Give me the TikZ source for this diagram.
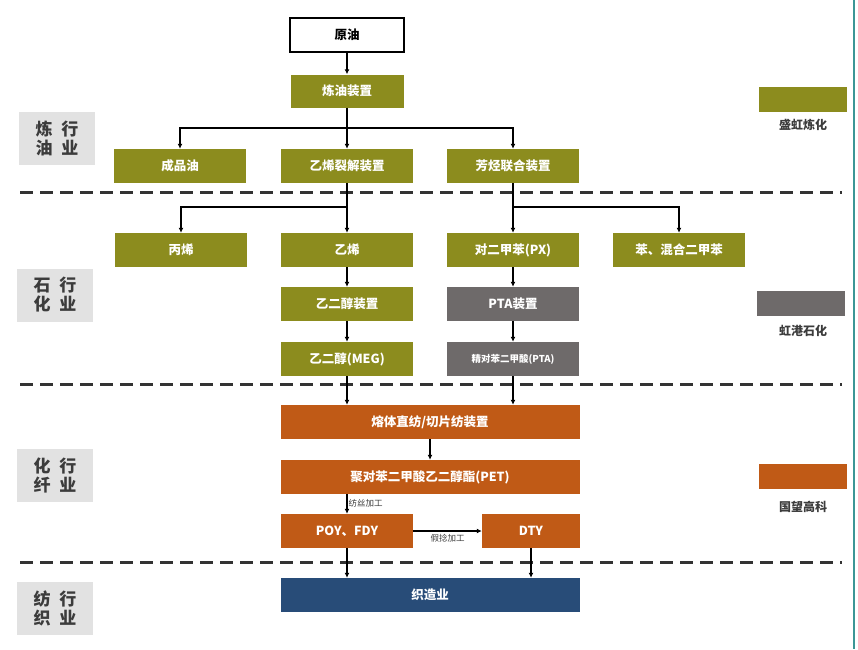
\documentclass[tikz,border=0pt]{standalone}
\usepackage{fontspec}
\newfontfamily\cjk{Noto Sans CJK SC}
\usetikzlibrary{arrows.meta}
\definecolor{olivebox}{RGB}{140,140,30}
\definecolor{graybox}{RGB}{110,106,106}
\definecolor{orangebox}{RGB}{192,90,22}
\definecolor{bluebox}{RGB}{40,76,120}
\definecolor{sidebox}{RGB}{226,226,226}
\definecolor{sidetext}{RGB}{60,60,60}
\definecolor{tealline}{RGB}{60,150,150}
\begin{document}
\begin{tikzpicture}[x=1pt, y=-1pt,
	box/.style={minimum width=132pt, minimum height=34pt, inner sep=0pt, text=white, font=\cjk\bfseries\fontsize{12.5}{14}\selectfont},
	wide/.style={box, minimum width=299pt},
	side/.style={fill=sidebox, minimum width=76pt, minimum height=53pt, align=center, text=sidetext, font=\cjk\bfseries\fontsize{17}{19}\selectfont},
	legend/.style={minimum width=88pt, minimum height=25pt, inner sep=0pt},
	legtext/.style={text=sidetext, font=\cjk\bfseries\fontsize{12}{14}\selectfont},
	small/.style={text=sidetext, font=\cjk\fontsize{8.5}{10}\selectfont, inner sep=1pt},
	arr/.style={-{Latex[length=5pt,width=5pt]}, line width=1.2pt},
	sep/.style={line width=3pt, dash pattern=on 13pt off 7pt, color=black!80}]
	\useasboundingbox (0,0) rectangle (858,649);
	\draw[tealline, line width=2pt] (854,0) -- (854,649);
	% section separators
	\draw[sep] (20,192) -- (842,192);
	\draw[sep] (20,384) -- (842,384);
	\draw[sep] (20,562) -- (842,562);
	% side labels
	\node[side] (s1) at (57,138) {炼\hspace{9pt}行\\油\hspace{9pt}业};
	\node[side] (s2) at (55,295) {石\hspace{9pt}行\\化\hspace{9pt}业};
	\node[side] (s3) at (55,475) {化\hspace{9pt}行\\纤\hspace{9pt}业};
	\node[side] (s4) at (55,608) {纺\hspace{9pt}行\\织\hspace{9pt}业};
	% legend
	\node[legend, fill=olivebox] (l1) at (803,99) {};
	\node[legtext] at (803,125) {盛虹炼化};
	\node[legend, fill=graybox] (l2) at (801,303) {};
	\node[legtext] at (803,331) {虹港石化};
	\node[legend, fill=orangebox] (l3) at (803,476) {};
	\node[legtext] at (803,507) {国望高科};
	% refining
	\node[box, draw=black, line width=1.5pt, text=black, minimum width=114pt] (yuanyou) at (347,35) {原油};
	\node[box, fill=olivebox, minimum width=113pt, minimum height=33pt] (lianyou) at (347,91) {炼油装置};
	\node[box, fill=olivebox] (chengpin) at (180,166) {成品油};
	\node[box, fill=olivebox] (yilie) at (347,166) {乙烯裂解装置};
	\node[box, fill=olivebox] (fangting) at (513,166) {芳烃联合装置};
	% petrochemical
	\node[box, fill=olivebox] (bingxi) at (181,250) {丙烯};
	\node[box, fill=olivebox] (yixi) at (347,250) {乙烯};
	\node[box, fill=olivebox] (px) at (513,250) {对二甲苯(PX)};
	\node[box, fill=olivebox] (ben) at (679,250) {苯、混合二甲苯};
	\node[box, fill=olivebox] (egz) at (347,304) {乙二醇装置};
	\node[box, fill=graybox] (ptaz) at (513,304) {PTA装置};
	\node[box, fill=olivebox] (meg) at (347,359) {乙二醇(MEG)};
	\node[box, fill=graybox, font=\cjk\bfseries\fontsize{9.5}{11}\selectfont] (pta) at (513,359) {精对苯二甲酸(PTA)};
	% fibre
	\node[wide, fill=orangebox] (rongti) at (430,422) {熔体直纺/切片纺装置};
	\node[wide, fill=orangebox] (pet) at (430,477) {聚对苯二甲酸乙二醇酯(PET)};
	\node[box, fill=orangebox] (poy) at (347,531) {POY、FDY};
	\node[box, fill=orangebox, minimum width=98pt] (dty) at (531,531) {DTY};
	% textile
	\node[wide, fill=bluebox] (zhizao) at (430,595) {织造业};
	% connectors
	\coordinate (b1) at (347,128);
	\coordinate (b2) at (347,207);
	\coordinate (b3) at (513,207);
	\draw[arr] (yuanyou) -- (lianyou);
	\draw[line width=1.2pt] (lianyou) -- (b1);
	\draw[arr] (b1) -| (chengpin);
	\draw[arr] (b1) -- (yilie);
	\draw[arr] (b1) -| (fangting);
	\draw[line width=1.2pt] (yilie) -- (b2);
	\draw[arr] (b2) -| (bingxi);
	\draw[arr] (b2) -- (yixi);
	\draw[line width=1.2pt] (fangting) -- (b3);
	\draw[arr] (b3) -- (px);
	\draw[arr] (b3) -| (ben);
	\draw[arr] (yixi) -- (egz);
	\draw[arr] (egz) -- (meg);
	\draw[arr] (px) -- (ptaz);
	\draw[arr] (ptaz) -- (pta);
	\draw[arr] (meg) -- (meg |- rongti.north);
	\draw[arr] (pta) -- (pta |- rongti.north);
	\draw[arr] (rongti) -- (pet);
	\draw[arr] (pet.south -| poy) -- node[small, right, pos=0.45] {纺丝加工} (poy);
	\draw[arr] (poy) -- node[small, below=2pt] {假捻加工} (dty);
	\draw[arr] (poy) -- (poy |- zhizao.north);
	\draw[arr] (dty) -- (dty |- zhizao.north);
\end{tikzpicture}
\end{document}
